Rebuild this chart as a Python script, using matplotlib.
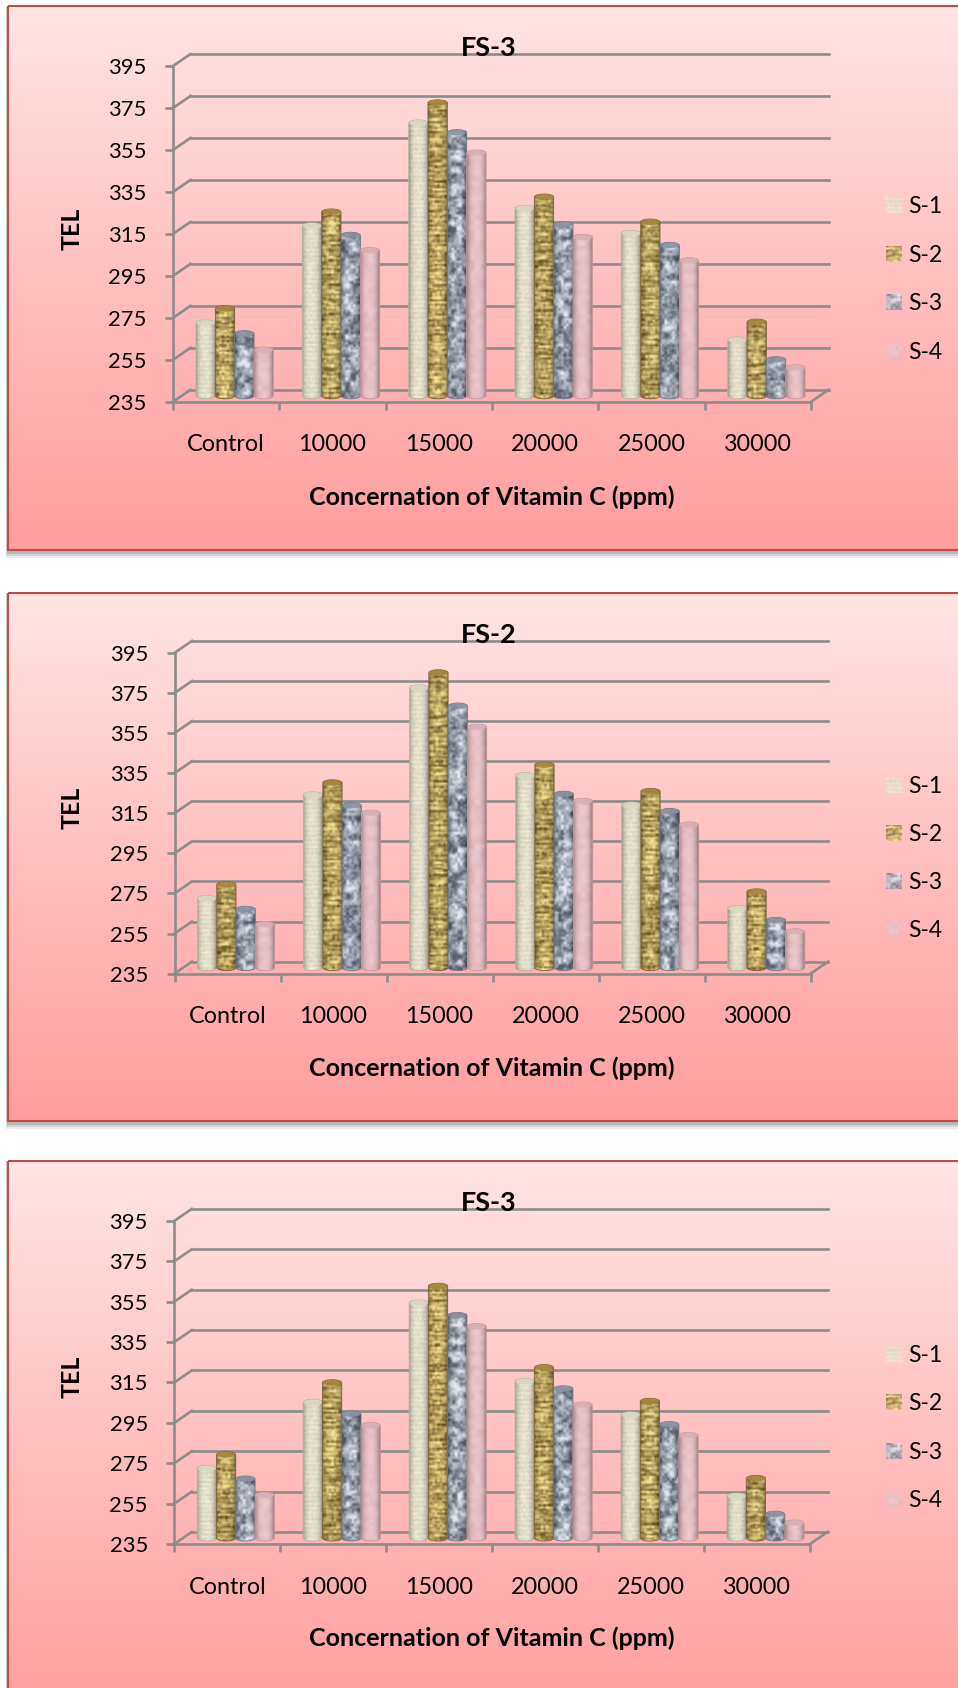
import matplotlib
matplotlib.use('Agg')
import matplotlib.pyplot as plt
import numpy as np
from matplotlib.patches import Polygon, Ellipse, Rectangle
from matplotlib.transforms import Affine2D

plt.rcParams['font.family'] = ['Lato', 'DejaVu Sans']

categories = ['Control', '10000', '15000', '20000', '25000', '30000']
series_names = ['S-1', 'S-2', 'S-3', 'S-4']
y_ticks = [235, 255, 275, 295, 315, 335, 355, 375, 395]

# values, one row per series
tel_top = [[269.7, 316.0, 365.0, 324.3, 312.4, 261.6],
           [276.5, 322.6, 374.6, 329.7, 317.8, 270.1],
           [264.6, 311.5, 360.4, 316.6, 306.7, 252.2],
           [256.8, 304.2, 350.7, 310.5, 299.4, 248.4]]
tel_mid = [[269.5, 321.2, 374.6, 330.8, 316.1, 264.5],
           [276.4, 327.2, 382.1, 336.1, 322.9, 272.8],
           [264.1, 315.8, 365.5, 321.5, 312.9, 258.6],
           [256.5, 312.1, 355.0, 318.0, 306.2, 252.9]]
tel_low = [[269.5, 302.2, 351.4, 312.5, 296.0, 255.8],
           [276.2, 311.9, 359.7, 319.4, 302.7, 264.5],
           [264.2, 296.4, 345.2, 308.9, 291.2, 246.8],
           [256.2, 290.7, 339.7, 300.9, 285.8, 242.4]]

W, H = 958, 1688
GRID = '#8C8C8C'
BORDER = '#BE4B48'

panels = [
    dict(title='FS-3', data=tel_top, top=6, bottom=550, x0=173, x1=811, y395=66, y235=401.8,
         title_y=48, tel_y=228.6, xlab_y=497, leg_y=[205.4, 254.3, 302.5, 350.7]),
    dict(title='FS-2', data=tel_mid, top=593, bottom=1121, x0=174.5, x1=810.7, y395=652.9, y235=973.6,
         title_y=635, tel_y=808.2, xlab_y=1068, leg_y=[785, 833.2, 881.4, 929.3]),
    dict(title='FS-3', data=tel_low, top=1161, bottom=1720, x0=174.3, x1=810, y395=1220.9, y235=1544,
         title_y=1203, tel_y=1377, xlab_y=1638.7, leg_y=[1354, 1402.3, 1451.2, 1499.4]),
]


def speckle(yy, xx):
    v = np.sin(xx * 12.9898 + yy * 78.233) * 43758.5453
    return v - np.floor(v)


def vnoise(h, w, cy, cx, seed):
    # smooth texture for the cylinders, cell size cy by cx pixels
    ny, nx = int(h / cy) + 2, int(w / cx) + 2
    gy, gx = np.mgrid[0:ny, 0:nx].astype(float)
    g = speckle(gy + seed * 7.31, gx + seed * 3.17)
    yi = np.arange(h) / cy
    xi = np.arange(w) / cx
    y0 = yi.astype(int)
    x0 = xi.astype(int)
    fy = (yi - y0)[:, None]
    fx = (xi - x0)[None, :]
    fy = fy * fy * (3 - 2 * fy)
    fx = fx * fx * (3 - 2 * fx)
    a = g[np.ix_(y0, x0)] * (1 - fx) + g[np.ix_(y0, x0 + 1)] * fx
    b = g[np.ix_(y0 + 1, x0)] * (1 - fx) + g[np.ix_(y0 + 1, x0 + 1)] * fx
    return a * (1 - fy) + b * fy


def texture(kind, h, w, seed=0.0, cyl=True):
    yy = np.arange(h, dtype=float)[:, None]
    if kind == 0:
        base = np.array([230, 225, 205.])
        v = 0.28 * np.sin(yy * 2 * np.pi / 4.6) + 0.9 * (vnoise(h, w, 2.2, 2.2, seed) - 0.5)
        img = base + v[..., None] * np.array([22, 22, 24.])
    elif kind == 1:
        dark = np.array([92, 66, 24.])
        light = np.array([246, 226, 145.])
        bands = vnoise(h, w, 2.0, 9, seed)
        blot = vnoise(h, w, 3.0, 2.5, seed + 2)
        t = 0.22 + 0.62 * bands + 0.50 * (blot - 0.3) + 0.10 * np.sin(yy * 2 * np.pi / 5)
        t = np.clip(t, 0, 1)[..., None]
        img = dark + t * (light - dark)
    elif kind == 2:
        dark = np.array([92, 98, 114.])
        light = np.array([228, 233, 244.])
        v = 0.6 * vnoise(h, w, 6.0, 6.0, seed) + 0.4 * vnoise(h, w, 2.6, 2.6, seed + 4)
        t = np.clip((v - 0.18) * 1.6, 0, 1)[..., None]
        img = dark + t * (light - dark)
    else:
        base = np.array([234, 194, 200.])
        v = vnoise(h, w, 5.0, 5.0, seed) - 0.5
        img = base + v[..., None] * np.array([12, 18, 18.])
    if cyl:
        u = np.linspace(-1, 1, w)
        shade = 1.0 - 0.28 * np.abs(u) ** 3 - 0.10 * np.clip(u, 0, 1) ** 2
        img = img * shade[None, :, None]
    return np.clip(img, 0, 255).astype(np.uint8)


cap_colors = ['#DAD6C2', '#A5843E', '#8A92A2', '#D9AEB4']
edge_colors = ['#B5B29C', '#7C6230', '#6F7789', '#C4979E']

fig = plt.figure(figsize=(W / 100, H / 100), dpi=100, facecolor='white')
bg = fig.add_axes([0, 0, 1, 1])
bg.set_xlim(0, W)
bg.set_ylim(H, 0)
bg.axis('off')

grad = np.array([[255, 229, 229], [255, 192, 192], [255, 158, 158]], dtype=float)
for p in panels:
    # shadow, then gradient box
    for k, a in zip([7, 5, 3], [0.10, 0.16, 0.22]):
        bg.add_patch(Rectangle((8 - k * 0.3, p['top'] + 1), W, p['bottom'] - p['top'] + k,
                               facecolor='#555555', alpha=a, edgecolor='none', zorder=1))
    n = 256
    u = np.linspace(0, 1, n)
    col = np.stack([np.interp(u, [0, 0.5, 1], grad[:, c]) for c in range(3)], axis=1)
    bg.imshow(col[:, None, :].astype(np.uint8), extent=[8, W + 10, p['bottom'], p['top']],
              aspect='auto', zorder=2, interpolation='bilinear')
    bg.add_patch(Rectangle((8, p['top']), W + 10, p['bottom'] - p['top'], facecolor='none',
                           edgecolor=BORDER, linewidth=1.5, zorder=3))
    for j, name in enumerate(series_names):
        yc = p['leg_y'][j]
        bg.imshow(texture(j, 16, 16, seed=1.0 + j, cyl=False), extent=[886, 902, yc + 8, yc - 8],
                  aspect='auto', zorder=4, interpolation='bilinear', alpha=0.8)
        bg.text(908, yc + 1.5, name, fontsize=16.6, va='center', ha='left', color='black', zorder=5)
bg.set_xlim(0, W)
bg.set_ylim(H, 0)

for n_p, p in enumerate(panels):
    left = p['x0'] / W
    bottom = 1 - p['y235'] / H
    width = (p['x1'] - p['x0']) / W
    height = (p['y235'] - p['y395']) / H
    ax = fig.add_axes([left, bottom, width, height])
    ax.patch.set_alpha(0)

    back = ax.transData + Affine2D().translate(17.5, 12)
    mid = ax.transData + Affine2D().translate(8.5, 6)
    n_cat = len(categories)

    ux = n_cat / (p['x1'] - p['x0'])   # data units per pixel
    uy = 160 / (p['y235'] - p['y395'])

    for v in y_ticks:
        ax.plot([0, n_cat], [v, v], color=GRID, lw=1.9, transform=back, clip_on=False, zorder=1)
        ax.plot([0, 17.5 * ux], [v, v + 12 * uy], color=GRID, lw=1.9, clip_on=False, zorder=1)
    ax.plot([n_cat, n_cat + 17.5 * ux], [235, 235 + 12 * uy], color=GRID, lw=1.9, clip_on=False, zorder=1)

    bar_w = 0.182
    for j, row in enumerate(p['data']):
        for i, v in enumerate(row):
            xl = i + 0.5 + (j - 2) * bar_w
            xr = xl + bar_w
            xc = (xl + xr) / 2
            cap = 3 * uy
            t = np.linspace(0, np.pi, 30)
            xs = np.r_[xc - np.cos(t) * bar_w / 2, xc + np.cos(t) * bar_w / 2]
            ys = np.r_[v + np.sin(t) * cap, 235 - np.sin(t) * cap]
            outline = Polygon(np.c_[xs, ys], closed=True, transform=mid, facecolor='none',
                              edgecolor=edge_colors[j], linewidth=0.6, zorder=3 + j * 0.1, clip_on=False)
            ax.add_patch(outline)
            hpx = int((v - 235) / uy) + 12
            img = texture(j, hpx, 20, seed=i + 3 * n_p + 1)
            im = ax.imshow(img, extent=[xl, xr, 235 - cap * 1.2, v + cap * 1.2], aspect='auto',
                           transform=mid, interpolation='bilinear', zorder=2.9 + j * 0.1)
            im.set_clip_path(outline)
            ax.add_patch(Ellipse((xc, v), bar_w * 0.96, cap * 1.9, transform=mid, facecolor=cap_colors[j],
                                 edgecolor='none', zorder=3.05 + j * 0.1, clip_on=False, alpha=0.9))

    ax.set_xlim(0, n_cat)
    ax.set_ylim(235, 395)
    for s in ['top', 'right']:
        ax.spines[s].set_visible(False)
    for s in ['left', 'bottom']:
        ax.spines[s].set_color(GRID)
        ax.spines[s].set_linewidth(1.9)

    ax.set_yticks(y_ticks)
    ax.tick_params(axis='y', length=6, width=1.9, color=GRID, labelsize=15.8, pad=13)
    ax.set_xticks(range(n_cat + 1))
    ax.set_xticklabels([])
    ax.set_xticks([i + 0.5 for i in range(n_cat)], minor=True)
    ax.set_xticklabels(categories, minor=True)
    ax.tick_params(axis='x', which='major', length=5.5, width=1.9, color=GRID)
    ax.tick_params(axis='x', which='minor', length=0, labelsize=16.8, pad=23.5)

    fw = p['x1'] - p['x0']
    fh = p['y235'] - p['y395']
    ax.set_title(p['title'], fontsize=19.5, fontweight='bold', x=(489 - p['x0']) / fw,
                 y=(p['y235'] - p['title_y']) / fh, va='center', pad=0, zorder=20)
    ax.set_xlabel('Concernation of Vitamin C (ppm)', fontsize=18, fontweight='bold', va='center')
    ax.xaxis.set_label_coords((492 - p['x0']) / fw, (p['y235'] - p['xlab_y']) / fh)
    ax.set_ylabel('TEL', fontsize=18, fontweight='bold', va='center')
    ax.yaxis.set_label_coords((72 - p['x0']) / fw, (p['y235'] - p['tel_y']) / fh)

fig.savefig('out.png', dpi=100, facecolor='white')
